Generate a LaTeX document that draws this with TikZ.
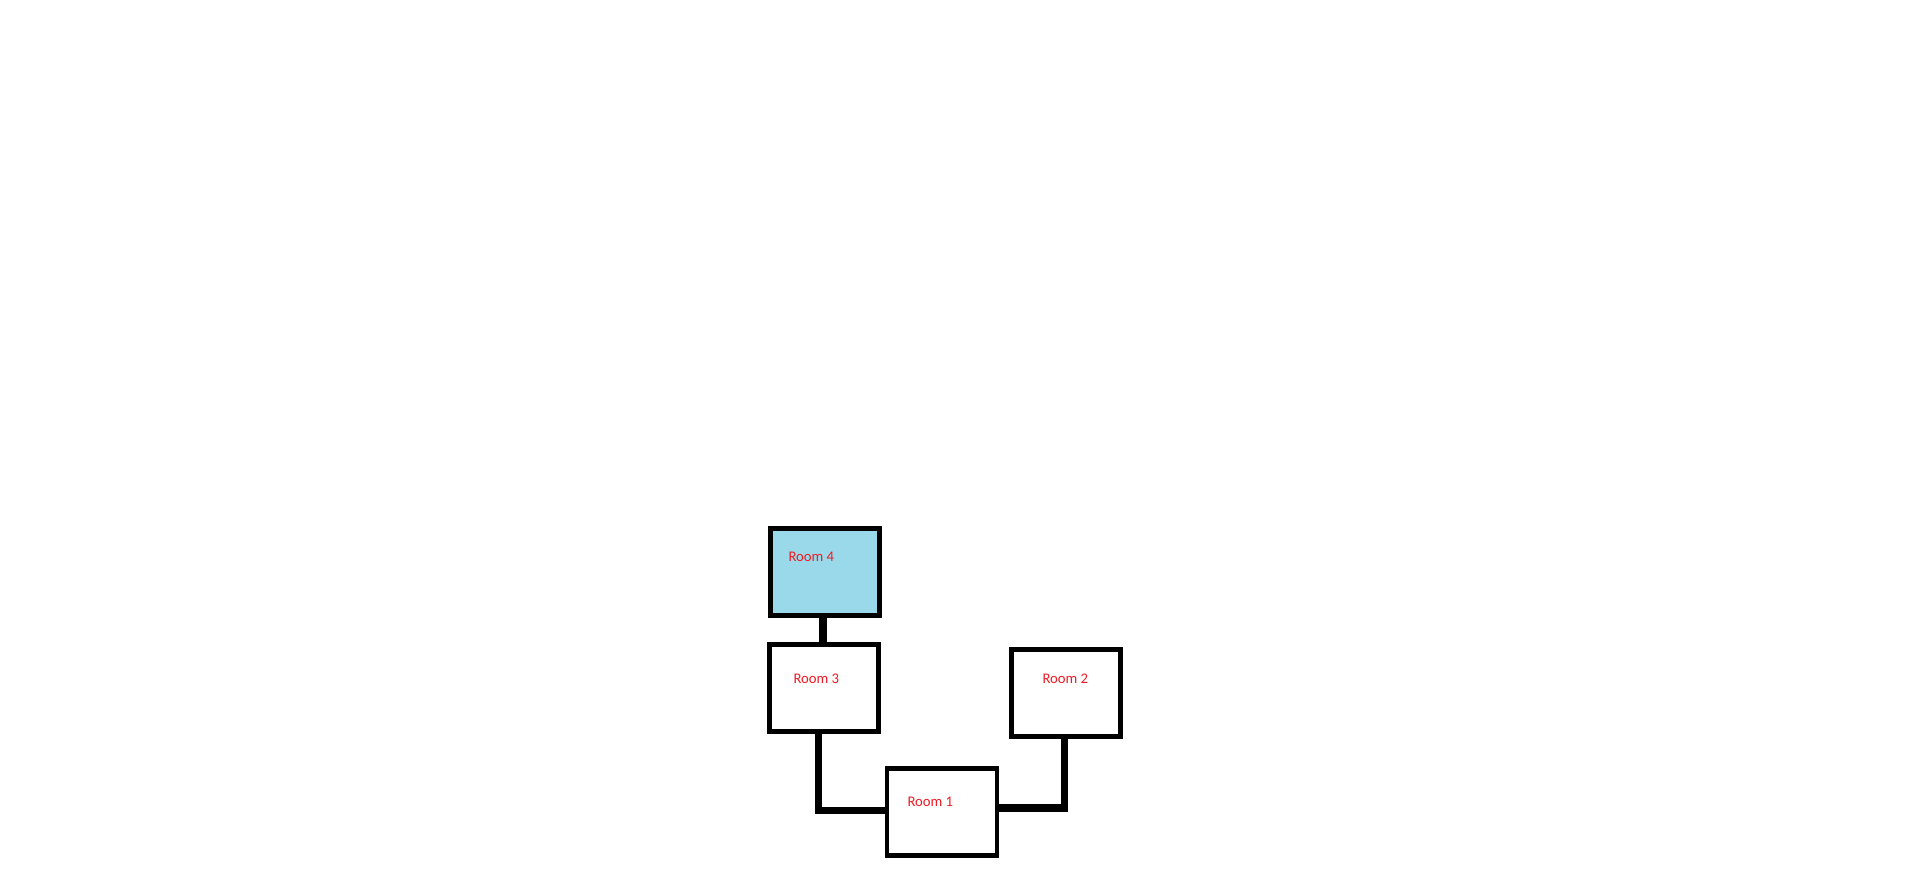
\documentclass[tikz,border=0pt]{standalone}
\usepackage{fontspec}
\setmainfont{Carlito}
\definecolor{roomblue}{HTML}{99D9EA}
\definecolor{roomred}{HTML}{ED1C24}
\begin{document}
\begin{tikzpicture}[x=1pt,y=-1pt,
  roombox/.style={draw=black,line width=4.4pt,fill=white,minimum width=109pt,minimum height=87pt,inner sep=0pt,outer sep=0pt},
  roomlabel/.style={anchor=base west,inner sep=0pt,text=roomred,font=\fontsize{14.7}{17}\selectfont},
  link/.style={draw=black,line width=7.5pt}]
\useasboundingbox[fill=white] (0,0) rectangle (1914,870);
\node[roombox,fill=roomblue,line width=5pt,minimum height=86.2pt] (room4) at (824.5,571.9) {};
\node[roombox] (room3) at (824,687.8) {};
\node[roombox] (room2) at (1066,692.8) {};
\node[roombox,minimum width=109.6pt] (room1) at (942,811.8) {};
\coordinate (c31) at (818.6,731.5);
\coordinate (c12) at (1064.7,736.5);
\path[link] ([xshift=-1.5pt]room4.south) -- ([xshift=-1.5pt]room4.south |- room3.north);
\path[link] (c31) |- ([yshift=1.3pt]room1.west);
\path[link] ([yshift=3.7pt]room1.east) -| (c12);
\node[roomlabel] (t4) at (788.3,561.7) {Room 4};
\node[roomlabel] (t3) at (793.3,683.3) {Room 3};
\node[roomlabel] (t2) at (1042.3,683.3) {Room 2};
\node[roomlabel] (t1) at (907.3,806) {Room 1};
\end{tikzpicture}
\end{document}
